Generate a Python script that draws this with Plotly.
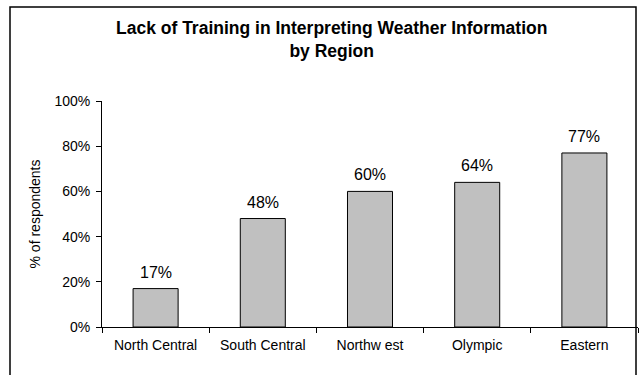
import plotly.graph_objects as go

regions = ["North Central", "South Central", "Northw est", "Olympic", "Eastern"]
pct_respondents = [17, 48, 60, 64, 77]
y_ticks = [0, 20, 40, 60, 80, 100]
y_tick_labels = ["0%", "20%", "40%", "60%", "80%", "100%"]

FONT = "Liberation Sans, Arial, sans-serif"

# plot area in pixels: left 102, top 101, width 536, height 226
PL, PT, PW, PH = 102, 101, 536, 226


def px_to_paper(px_x=None, px_y=None):
    out = []
    if px_x is not None:
        out.append((px_x - PL) / PW)
    if px_y is not None:
        out.append((PT + PH - px_y) / PH)
    return out[0] if len(out) == 1 else tuple(out)


fig = go.Figure()
fig.add_trace(go.Bar(
    x=regions,
    y=pct_respondents,
    marker=dict(color="#C0C0C0", line=dict(color="black", width=1)),
    width=0.42,
    hoverinfo="skip",
))

# value labels above each bar
for r, v in zip(regions, pct_respondents):
    fig.add_annotation(
        x=r, y=v, text=f"{v}%", showarrow=False,
        yanchor="bottom", yshift=6,
        font=dict(family=FONT, size=16, color="black"),
    )

# two-line chart title
tx, ty = px_to_paper(331, 40)
fig.add_annotation(
    xref="paper", yref="paper", x=tx, y=ty,
    xanchor="center", yanchor="middle", showarrow=False,
    text="<b>Lack of Training in Interpreting Weather Information<br>by Region</b>",
    font=dict(family=FONT, size=17.5, color="black"),
)

# outer chart frame
fx0, fy0 = px_to_paper(10, 380)
fx1, fy1 = px_to_paper(636, 7)
fig.add_shape(
    type="rect", xref="paper", yref="paper",
    x0=fx0, x1=fx1, y0=fy0, y1=fy1,
    line=dict(color="black", width=1.5), fillcolor="rgba(0,0,0,0)",
    layer="below",
)

fig.update_layout(
    width=639, height=375,
    margin=dict(l=PL, r=639 - PL - PW, t=PT, b=375 - PT - PH),
    paper_bgcolor="white", plot_bgcolor="white",
    showlegend=False,
    font=dict(family=FONT, size=14, color="black"),
    xaxis=dict(
        showline=True, linecolor="black", linewidth=1,
        ticks="outside", ticklen=5, tickcolor="black",
        tickson="boundaries",
        ticklabelstandoff=5,
        showgrid=False,
        tickfont=dict(family=FONT, size=14),
    ),
    yaxis=dict(
        range=[0, 100],
        tickvals=y_ticks, ticktext=y_tick_labels,
        showline=True, linecolor="black", linewidth=1,
        ticks="outside", ticklen=5, tickcolor="black",
        ticklabelstandoff=3,
        showgrid=False, zeroline=False,
        title=dict(text="% of respondents", standoff=10,
                   font=dict(family=FONT, size=14)),
        tickfont=dict(family=FONT, size=14),
    ),
)

fig.write_html("out.html")
